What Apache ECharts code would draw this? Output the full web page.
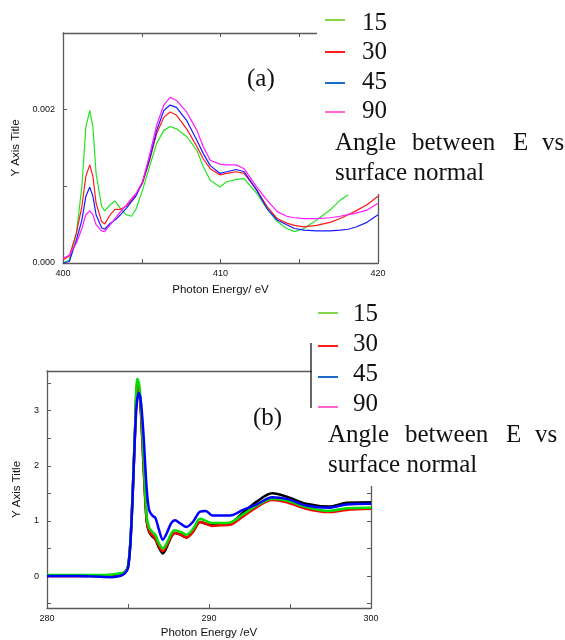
<!DOCTYPE html>
<html>
<head>
<meta charset="utf-8">
<script src="https://cdn.jsdelivr.net/npm/echarts@6/dist/echarts.min.js"></script>
<style>html,body{margin:0;padding:0;background:#fff}#c{width:565px;height:640px}</style>
</head>
<body>
<div id="c"></div>
<script>
// ---------- Panel (a): N K-edge, intensity in units of 1e-3 ----------
var energyA = [400, 400.4, 400.85, 401.2, 401.45, 401.7, 401.9, 402.1, 402.45, 402.65, 403.0, 403.3, 403.65, 404.0, 404.35, 404.65, 405.05, 405.5, 405.95, 406.4, 406.8, 407.2, 407.85, 408.5, 408.9, 409.35, 409.95, 410.4, 411.0, 411.5, 412.3, 412.95, 413.6, 414.2, 414.7, 415.3, 416.1, 416.95, 417.6, 418.1, 418.6, 419.3, 420];
var a15 = [0, 0.04, 0.39, 1.0, 1.77, 1.99, 1.77, 1.17, 0.74, 0.68, 0.76, 0.81, 0.71, 0.63, 0.61, 0.71, 0.95, 1.26, 1.56, 1.73, 1.78, 1.75, 1.65, 1.47, 1.26, 1.08, 0.99, 1.06, 1.09, 1.10, 0.91, 0.71, 0.54, 0.45, 0.41, 0.45, 0.56, 0.69, 0.82, 0.89, null, null, null];
var a30 = [0.04, 0.09, 0.39, 0.74, 1.13, 1.28, 1.13, 0.78, 0.54, 0.51, 0.63, 0.70, 0.70, 0.74, 0.82, 0.90, 1.04, 1.34, 1.69, 1.90, 1.97, 1.93, 1.75, 1.52, 1.36, 1.23, 1.15, 1.17, 1.19, 1.17, 0.95, 0.74, 0.58, 0.52, 0.49, 0.47, 0.49, 0.53, 0.58, 0.63, 0.68, 0.76, 0.87];
var a45 = [0.0, 0.02, 0.30, 0.56, 0.87, 0.99, 0.87, 0.63, 0.46, 0.44, 0.52, 0.56, 0.63, 0.71, 0.80, 0.88, 1.06, 1.36, 1.73, 1.99, 2.06, 2.03, 1.86, 1.60, 1.43, 1.27, 1.17, 1.19, 1.22, 1.19, 0.95, 0.71, 0.56, 0.50, 0.45, 0.43, 0.42, 0.42, 0.43, 0.44, 0.47, 0.53, 0.63];
var a90 = [0.06, 0.10, 0.26, 0.45, 0.63, 0.68, 0.63, 0.50, 0.42, 0.41, 0.50, 0.58, 0.67, 0.75, 0.84, 0.91, 1.06, 1.41, 1.80, 2.06, 2.16, 2.12, 1.97, 1.73, 1.52, 1.34, 1.29, 1.28, 1.28, 1.23, 0.99, 0.82, 0.67, 0.61, 0.59, 0.58, 0.58, 0.59, 0.61, 0.63, 0.65, 0.69, 0.78];
var yTickLabelsA = ['0.000', '0.002'];

// ---------- Panel (b): C K-edge ----------
var energyB = [280, 282, 283, 284, 284.5, 284.8, 285.0, 285.15, 285.3, 285.45, 285.57, 285.68, 285.8, 285.95, 286.15, 286.3, 286.5, 286.7, 286.9, 287.15, 287.4, 287.65, 287.9, 288.25, 288.6, 289.0, 289.45, 289.8, 290.2, 290.7, 291.3, 292.1, 292.95, 293.9, 294.8, 296.0, 297.4, 298.5, 300];
var bBlack = [0.0, 0.0, 0.0, 0.01, 0.03, 0.06, 0.16, 0.62, 1.57, 2.73, 3.45, 3.4, 2.95, 2.05, 1.0, 0.8, 0.72, 0.66, 0.52, 0.41, 0.53, 0.7, 0.78, 0.75, 0.7, 0.8, 0.98, 0.95, 0.92, 0.93, 0.95, 1.15, 1.35, 1.5, 1.44, 1.31, 1.26, 1.33, 1.34];
var bRed = [0.0, 0.0, 0.01, 0.02, 0.04, 0.07, 0.17, 0.63, 1.58, 2.75, 3.5, 3.42, 3.0, 2.1, 1.02, 0.82, 0.74, 0.68, 0.55, 0.45, 0.56, 0.71, 0.78, 0.75, 0.7, 0.8, 0.98, 0.95, 0.91, 0.92, 0.93, 1.08, 1.25, 1.38, 1.34, 1.22, 1.16, 1.2, 1.22];
var bGreen = [0.02, 0.02, 0.02, 0.03, 0.05, 0.08, 0.18, 0.65, 1.6, 2.8, 3.58, 3.5, 3.1, 2.24, 1.09, 0.88, 0.8, 0.74, 0.6, 0.5, 0.6, 0.76, 0.83, 0.8, 0.75, 0.85, 1.04, 1.0, 0.96, 0.96, 0.97, 1.12, 1.28, 1.4, 1.37, 1.25, 1.18, 1.23, 1.24];
var bBlue = [0.0, 0.0, -0.01, -0.02, 0.0, 0.05, 0.15, 0.6, 1.55, 2.7, 3.2, 3.32, 3.15, 2.6, 1.6, 1.2, 1.1, 1.05, 0.85, 0.66, 0.78, 0.95, 1.01, 0.95, 0.89, 0.98, 1.17, 1.18, 1.1, 1.1, 1.1, 1.2, 1.3, 1.43, 1.4, 1.28, 1.24, 1.3, 1.31];
var yTicksB = [-0.5, 0, 0.5, 1, 1.5, 2, 2.5, 3, 3.5];
var yLabelsB = [0, 1, 2, 3];

var legendNames = ['15', '30', '45', '90'];
var legendColors = ['#86d44a', '#ff1e1e', '#1a6cc8', '#ff66cc'];

function pairs(xs, ys, scale) {
  return xs.map(function (x, i) { return ys[i] == null ? null : [x, ys[i] * (scale || 1)]; }).filter(function (p) { return p; });
}

var axisCol = '#5a5a5a';
var labelFont = { fontFamily: 'Liberation Sans, Arial, sans-serif', fontSize: 9, color: '#111' };
var nameFont = { fontFamily: 'Liberation Sans, Arial, sans-serif', fontSize: 11.5, color: '#111', verticalAlign: 'middle' };
var serif = 'Liberation Serif, Times New Roman, serif';

function frameAxis(extra) {
  var o = { type: 'value', axisLine: { show: true, onZero: false, lineStyle: { color: axisCol, width: 1.3 } },
    axisTick: { show: true, inside: true, length: 4, lineStyle: { color: axisCol } },
    axisLabel: { show: false }, splitLine: { show: false } };
  for (var k in extra) o[k] = extra[k];
  return o;
}

var chart = echarts.init(document.getElementById('c'), null, { renderer: 'canvas' });

var graphics = [];
// white legend boxes
graphics.push({ type: 'rect', shape: { x: 317, y: 0, width: 250, height: 194 }, style: { fill: '#fff' }, z: 100 });
graphics.push({ type: 'rect', shape: { x: 311.5, y: 300, width: 255, height: 186 }, style: { fill: '#fff' }, z: 100 });
graphics.push({ type: 'line', shape: { x1: 311, y1: 343, x2: 311, y2: 408 }, style: { stroke: '#000', lineWidth: 1.2 }, z: 101 });

function legendBlock(lineX1, lineX2, textX, lineYs, textYs, words, wordXs, wordY, line2X, line2Y) {
  legendNames.forEach(function (n, i) {
    graphics.push({ type: 'line', shape: { x1: lineX1, y1: lineYs[i], x2: lineX2, y2: lineYs[i] }, style: { stroke: legendColors[i], lineWidth: 2 }, z: 101 });
    graphics.push({ type: 'text', x: textX, y: textYs[i], style: { text: n, font: '25px ' + serif, fill: '#111', textVerticalAlign: 'middle' }, z: 101 });
  });
  words.forEach(function (w, i) {
    graphics.push({ type: 'text', x: wordXs[i], y: wordY, style: { text: w, font: '25px ' + serif, fill: '#111', textVerticalAlign: 'middle' }, z: 101 });
  });
  graphics.push({ type: 'text', x: line2X, y: line2Y, style: { text: 'surface normal', font: '25px ' + serif, fill: '#111', textVerticalAlign: 'middle' }, z: 101 });
}
legendBlock(325, 345, 362, [20, 52, 83, 112], [23, 52, 82, 111], ['Angle', 'between', 'E', 'vs'], [335, 412, 513, 542], 143, 335, 173);
legendBlock(318, 338, 353, [313, 346, 377, 407], [314, 344, 374, 404], ['Angle', 'between', 'E', 'vs'], [328, 405, 506, 535], 435, 328, 465);
graphics.push({ type: 'text', x: 247, y: 79, style: { text: '(a)', font: '25px ' + serif, fill: '#111', textVerticalAlign: 'middle' }, z: 101 });
graphics.push({ type: 'text', x: 253, y: 418, style: { text: '(b)', font: '25px ' + serif, fill: '#111', textVerticalAlign: 'middle' }, z: 101 });

var option = {
  backgroundColor: '#fff',
  animation: false,
  grid: [
    { left: 63, top: 33, width: 315, height: 230 },
    { left: 47, top: 371, width: 324, height: 238 }
  ],
  xAxis: [
    frameAxis({ gridIndex: 0, position: 'bottom', min: 400, max: 420, interval: 10,
      minorTick: { show: true, splitNumber: 2, length: 4, lineStyle: { color: axisCol } },
      axisLabel: Object.assign({ show: true, margin: 6 }, labelFont),
      name: 'Photon Energy/ eV', nameLocation: 'middle', nameGap: 27, nameTextStyle: nameFont }),
    frameAxis({ gridIndex: 0, position: 'top', min: 400, max: 420, interval: 10,
      minorTick: { show: true, splitNumber: 2, length: 4, lineStyle: { color: axisCol } } }),
    frameAxis({ gridIndex: 1, position: 'bottom', min: 280, max: 300, interval: 10,
      minorTick: { show: true, splitNumber: 2, length: 4, lineStyle: { color: axisCol } },
      axisLabel: Object.assign({ show: true, margin: 6 }, labelFont),
      name: 'Photon Energy /eV', nameLocation: 'middle', nameGap: 25, nameTextStyle: nameFont }),
    frameAxis({ gridIndex: 1, position: 'top', min: 280, max: 300, interval: 10, axisTick: { show: false } })
  ],
  yAxis: [
    frameAxis({ gridIndex: 0, position: 'left', min: 0, max: 0.003, interval: 0.001,
      axisLabel: Object.assign({ show: true, margin: 8, formatter: function (v) {
        var s = v.toFixed(3); return yTickLabelsA.indexOf(s) >= 0 ? s : ''; } }, labelFont),
      name: 'Y Axis Title', nameLocation: 'middle', nameGap: 46, nameRotate: 90, nameTextStyle: nameFont }),
    frameAxis({ gridIndex: 0, position: 'right', min: 0, max: 0.003, interval: 0.001 }),
    frameAxis({ gridIndex: 1, position: 'left', min: -0.58, max: 3.72,
      axisTick: { show: true, inside: true, length: 4, lineStyle: { color: axisCol }, customValues: yTicksB },
      axisLabel: Object.assign({ show: true, margin: 8, customValues: yLabelsB }, labelFont),
      name: 'Y Axis Title', nameLocation: 'middle', nameGap: 30, nameRotate: 90, nameTextStyle: nameFont }),
    frameAxis({ gridIndex: 1, position: 'right', min: -0.58, max: 3.72,
      axisTick: { show: true, inside: true, length: 4, lineStyle: { color: axisCol }, customValues: yTicksB } })
  ],
  series: [
    { type: 'line', xAxisIndex: 0, yAxisIndex: 0, data: pairs(energyA, a15, 1e-3), showSymbol: false, lineStyle: { color: '#22e622', width: 1.2 } },
    { type: 'line', xAxisIndex: 0, yAxisIndex: 0, data: pairs(energyA, a30, 1e-3), showSymbol: false, lineStyle: { color: '#ff1a1a', width: 1.2 } },
    { type: 'line', xAxisIndex: 0, yAxisIndex: 0, data: pairs(energyA, a45, 1e-3), showSymbol: false, lineStyle: { color: '#1a1aff', width: 1.2 } },
    { type: 'line', xAxisIndex: 0, yAxisIndex: 0, data: pairs(energyA, a90, 1e-3), showSymbol: false, lineStyle: { color: '#ff1aff', width: 1.2 } },
    { type: 'line', xAxisIndex: 2, yAxisIndex: 2, data: pairs(energyB, bBlack), showSymbol: false, smooth: 0.3, lineStyle: { color: '#000', width: 2.5 } },
    { type: 'line', xAxisIndex: 2, yAxisIndex: 2, data: pairs(energyB, bRed), showSymbol: false, smooth: 0.3, lineStyle: { color: '#ff0000', width: 2.5 } },
    { type: 'line', xAxisIndex: 2, yAxisIndex: 2, data: pairs(energyB, bGreen), showSymbol: false, smooth: 0.3, lineStyle: { color: '#00e000', width: 2.5 } },
    { type: 'line', xAxisIndex: 2, yAxisIndex: 2, data: pairs(energyB, bBlue), showSymbol: false, smooth: 0.3, lineStyle: { color: '#0000ff', width: 2.5 } }
  ],
  graphic: { elements: graphics }
};
chart.setOption(option);
</script>
</body>
</html>
